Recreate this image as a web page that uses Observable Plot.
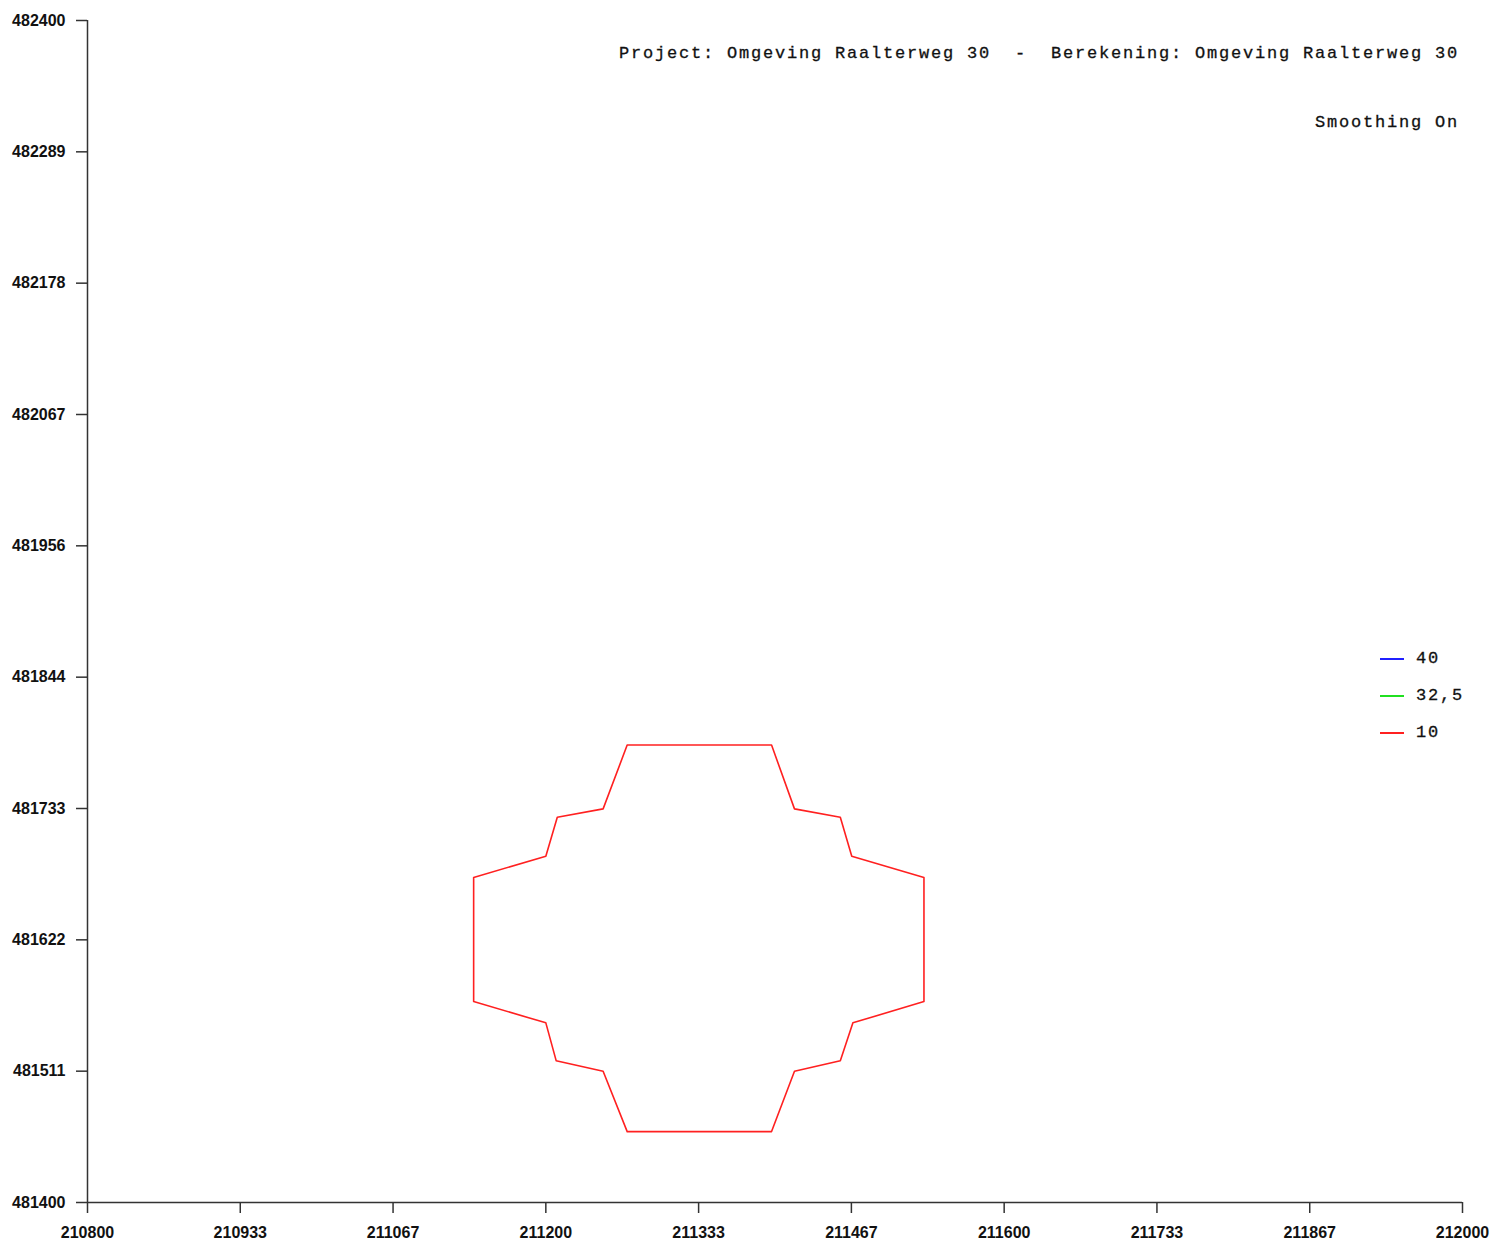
<!DOCTYPE html>
<html>
<head>
<meta charset="utf-8">
<script src="https://cdn.jsdelivr.net/npm/d3@7"></script>
<script src="https://cdn.jsdelivr.net/npm/@observablehq/plot@0.6"></script>
<style>
  html, body { margin: 0; padding: 0; background: #fff; }
  #wrap { position: relative; width: 1492px; height: 1241px; }
  .mono { font-family: "Liberation Mono", "DejaVu Sans Mono", monospace; font-size: 17px; letter-spacing: 1.8px; color: #111; line-height: 17px; white-space: pre; -webkit-text-stroke: 0.3px #111; }
  #title, #sub { position: absolute; right: 33px; text-align: right; }
  #title { top: 45px; }
  #sub { top: 114px; }
  #legend { position: absolute; left: 1380px; top: 640px; }
  .row { display: flex; align-items: center; height: 37px; }
  .sw { width: 24px; height: 2px; margin-right: 12px; }
</style>
</head>
<body>
<div id="wrap"></div>
<script>
// Title texts
const titleText = "Project: Omgeving Raalterweg 30  -  Berekening: Omgeving Raalterweg 30";
const subtitleText = "Smoothing On";

// Axis ticks and labels
const xTicks = [210800, 210933.33, 211066.67, 211200, 211333.33, 211466.67, 211600, 211733.33, 211866.67, 212000];
const xTickLabels = ["210800", "210933", "211067", "211200", "211333", "211467", "211600", "211733", "211867", "212000"];
const yTicks = [481400, 481511.11, 481622.22, 481733.33, 481844.44, 481955.56, 482066.67, 482177.78, 482288.89, 482400];
const yTickLabels = ["481400", "481511", "481622", "481733", "481844", "481956", "482067", "482178", "482289", "482400"];

// Legend series
const seriesLabels = ["40", "32,5", "10"];
const seriesColors = ["#2020ff", "#20e020", "#ff2020"];

// Contour vertices (only the "10" contour is visible)
const contour40X = [];
const contour40Y = [];
const contour325X = [];
const contour325Y = [];
const contour10X = [211271, 211397, 211417, 211457, 211467, 211530, 211530, 211468, 211457, 211417, 211397, 211271, 211250, 211209, 211200, 211137, 211137, 211200, 211210, 211250, 211271];
const contour10Y = [481787, 481787, 481733, 481726, 481693, 481675, 481570, 481552, 481520, 481511, 481460, 481460, 481511, 481520, 481552, 481570, 481675, 481693, 481726, 481733, 481787];

const toPts = (xs, ys, s) => xs.map((x, i) => ({x, y: ys[i], s}));
const lines = [
  ...toPts(contour40X, contour40Y, "40"),
  ...toPts(contour325X, contour325Y, "32,5"),
  ...toPts(contour10X, contour10Y, "10")
];

const chart = Plot.plot({
  width: 1492,
  height: 1241,
  marginLeft: 87,
  marginRight: 30,
  marginTop: 20,
  marginBottom: 39,
  style: {fontFamily: "'Liberation Sans', Arial, sans-serif", fontSize: "16px", fontWeight: "bold", color: "#111", background: "#fff"},
  x: {domain: [210800, 212000]},
  y: {domain: [481400, 482400]},
  color: {domain: seriesLabels, range: seriesColors},
  marks: [
    Plot.axisX({ticks: xTicks, tickSize: 11, tickPadding: 13, label: null, stroke: "#333", strokeWidth: 1.5,
      tickFormat: d => xTickLabels[xTicks.indexOf(d)]}),
    Plot.axisY({ticks: yTicks, tickSize: 11, tickPadding: 11, label: null, stroke: "#333", strokeWidth: 1.5,
      tickFormat: d => yTickLabels[yTicks.indexOf(d)]}),
    Plot.ruleX([210800], {stroke: "#333", strokeWidth: 1.5}),
    Plot.ruleY([481400], {stroke: "#333", strokeWidth: 1.5}),
    Plot.line(lines, {x: "x", y: "y", z: "s", stroke: "s", strokeWidth: 1.6})
  ]
});

const wrap = document.getElementById("wrap");
wrap.appendChild(chart);

const t = document.createElement("div");
t.id = "title"; t.className = "mono"; t.textContent = titleText;
wrap.appendChild(t);
const s = document.createElement("div");
s.id = "sub"; s.className = "mono"; s.textContent = subtitleText;
wrap.appendChild(s);

const lg = document.createElement("div");
lg.id = "legend";
seriesLabels.forEach((lab, i) => {
  const r = document.createElement("div");
  r.className = "row";
  const sw = document.createElement("div");
  sw.className = "sw";
  sw.style.background = seriesColors[i];
  const tx = document.createElement("span");
  tx.className = "mono";
  tx.textContent = lab;
  r.appendChild(sw); r.appendChild(tx);
  lg.appendChild(r);
});
wrap.appendChild(lg);
</script>
</body>
</html>
